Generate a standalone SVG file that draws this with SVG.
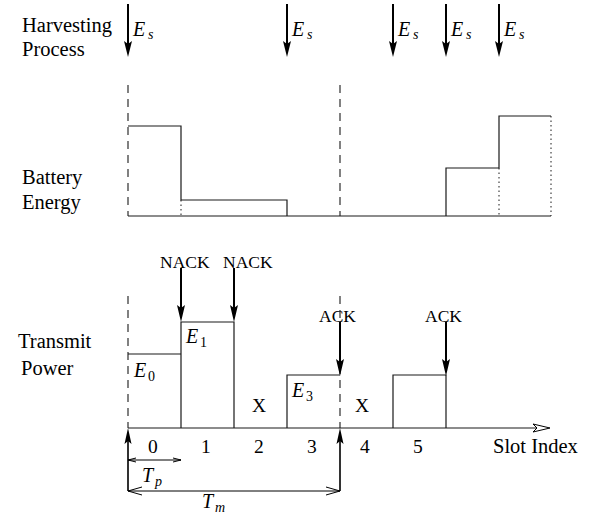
<svg xmlns="http://www.w3.org/2000/svg" width="595" height="515" viewBox="0 0 595 515">
<style>
text{font-family:"Liberation Serif","Times New Roman",serif;fill:#000}
.lbl{font-size:20.5px}
.num{font-size:19.5px}
.sm{font-size:17.5px}
.m{font-style:italic;font-size:20px}
.sub{font-style:italic;font-size:14px}
.subn{font-size:14px}
.ln{stroke:#1a1a1a;stroke-width:1.2;fill:none}
.dash{stroke:#1a1a1a;stroke-width:1.1;stroke-dasharray:8,6;fill:none}
.dot{stroke:#1a1a1a;stroke-width:1;stroke-dasharray:1.5,3;fill:none}
.ar{stroke:#000;stroke-width:2;fill:none}
.hd{fill:#000;stroke:none}
.v{stroke:#000;stroke-width:1;fill:none}
</style>
<rect width="595" height="515" fill="#fff"/>
<g id="labels">
<text class="lbl" x="22" y="32">Harvesting</text>
<text class="lbl" x="22" y="56">Process</text>
<text class="lbl" x="22" y="184">Battery</text>
<text class="lbl" x="22" y="209">Energy</text>
<text class="lbl" x="18" y="348">Transmit</text>
<text class="lbl" x="21" y="375">Power</text>
</g>
<g id="guides">
<path class="dash" d="M128,85V216M340,85V216M128,296V428M340,296V428"/>
</g>
<g id="harvest">
<g id="h1"><path class="ar" d="M128,4V46"/><path class="hd" d="M128,57L124,41L128,44L132,41Z"/><text class="m" x="133" y="36">E</text><text class="sub" x="148" y="39">s</text></g>
<g id="h2"><path class="ar" d="M287,4V46"/><path class="hd" d="M287,57L283,41L287,44L291,41Z"/><text class="m" x="292" y="36">E</text><text class="sub" x="307" y="39">s</text></g>
<g id="h3"><path class="ar" d="M393,4V46"/><path class="hd" d="M393,57L389,41L393,44L397,41Z"/><text class="m" x="398" y="36">E</text><text class="sub" x="413" y="39">s</text></g>
<g id="h4"><path class="ar" d="M446,4V46"/><path class="hd" d="M446,57L442,41L446,44L450,41Z"/><text class="m" x="451" y="36">E</text><text class="sub" x="466" y="39">s</text></g>
<g id="h5"><path class="ar" d="M499,4V46"/><path class="hd" d="M499,57L495,41L499,44L503,41Z"/><text class="m" x="504" y="36">E</text><text class="sub" x="519" y="39">s</text></g>
</g>
<g id="battery">
<path class="ln" d="M128,216H551"/>
<path class="ln" d="M128,126H181V200H287V216"/>
<path class="ln" d="M446,216V168H499V116H551"/>
<path class="dot" d="M181,200V216M499,168V216M551,116V216"/>
</g>
<g id="power">
<path class="ln" d="M128,354H181"/>
<path class="ln" d="M181,428V322H234V428"/>
<path class="ln" d="M287,428V375H340"/>
<path class="ln" d="M393,428V375H446V428"/>
<text class="m" x="134" y="377">E</text><text class="subn" x="148" y="381">0</text>
<text class="m" x="186" y="343">E</text><text class="subn" x="200" y="347">1</text>
<text class="m" x="292" y="397">E</text><text class="subn" x="306" y="401">3</text>
<text class="num" x="252" y="412">X</text>
<text class="num" x="355" y="412">X</text>
</g>
<g id="feedback">
<text class="sm" x="160" y="268">NACK</text>
<text class="sm" x="223" y="268">NACK</text>
<text class="sm" x="319" y="322">ACK</text>
<text class="sm" x="425" y="322">ACK</text>
<path class="ar" d="M181,268V310M234,268V310M340,322V365M446,322V365"/>
<path class="hd" d="M181,322L177,305L181,308L185,305Z"/>
<path class="hd" d="M234,322L230,305L234,308L238,305Z"/>
<path class="hd" d="M340,376L336,359L340,362L344,359Z"/>
<path class="hd" d="M446,376L442,359L446,362L450,359Z"/>
</g>
<g id="axis">
<path class="ln" d="M128,428H536"/>
<path d="M550,428L533,424L537,428L533,432Z" fill="#fff" stroke="#000" stroke-width="1"/>
<text class="num" x="148" y="453">0</text>
<text class="num" x="201" y="453">1</text>
<text class="num" x="254" y="453">2</text>
<text class="num" x="307" y="453">3</text>
<text class="num" x="360" y="453">4</text>
<text class="num" x="413" y="453">5</text>
<text class="lbl" x="493" y="453">Slot Index</text>
</g>
<g id="timing">
<path class="ar" d="M128,440V491M340,440V491" style="stroke-width:1.6"/>
<path class="hd" d="M128,428L124.5,444L128,441L131.5,444Z"/>
<path class="hd" d="M340,428L336.5,444L340,441L343.5,444Z"/>
<path class="v" d="M128,460H181M136,458L128,460L136,462M173,458L181,460L173,462"/>
<path class="v" d="M128,491H340M142,487L128,491L142,495M326,487L340,491L326,495"/>
<text class="m" x="142" y="482">T</text><text class="sub" x="155" y="486">p</text>
<text class="m" x="202" y="508">T</text><text class="sub" x="215" y="512">m</text>
</g>
</svg>
